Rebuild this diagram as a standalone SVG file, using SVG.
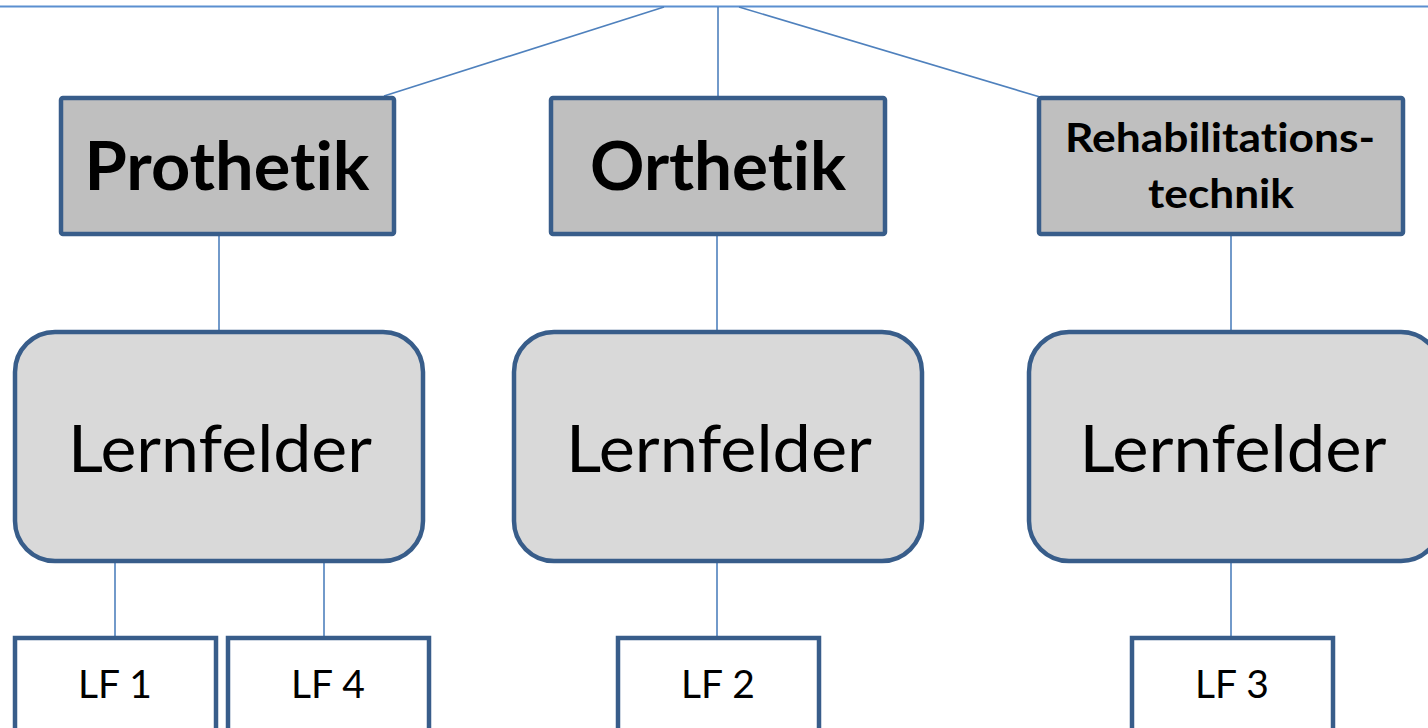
<svg xmlns="http://www.w3.org/2000/svg" width="1428" height="728" viewBox="0 0 1428 728">
<style>
.c{stroke:#4f81bd;stroke-width:1.6;fill:none}
.top{fill:#bfbfbf;stroke:#385d8a;stroke-width:4.5}
.mid{fill:#d9d9d9;stroke:#385d8a;stroke-width:4.5}
.lf{fill:#ffffff;stroke:#385d8a;stroke-width:4.5}
text{font-family:Lato,"Open Sans","Liberation Sans",sans-serif;fill:#000;text-anchor:middle;font-variant-ligatures:none;font-feature-settings:"liga" 0,"clig" 0}
.b{font-weight:bold}
</style>
<rect width="1428" height="728" fill="#ffffff"/>
<g id="connectors">
<line x1="0" y1="6.5" x2="1428" y2="6.5" stroke="#5b8fd0" stroke-width="1.8"/>
<line class="c" x1="664" y1="7" x2="384" y2="96"/>
<line class="c" x1="718" y1="7" x2="718" y2="96"/>
<line class="c" x1="739" y1="7" x2="1040" y2="97"/>
<line class="c" x1="219" y1="235" x2="219" y2="331"/>
<line class="c" x1="717" y1="235" x2="717" y2="331"/>
<line class="c" x1="1231" y1="235" x2="1231" y2="331"/>
<line class="c" x1="115" y1="562" x2="115" y2="637"/>
<line class="c" x1="324" y1="562" x2="324" y2="637"/>
<line class="c" x1="717" y1="562" x2="717" y2="637"/>
<line class="c" x1="1231" y1="562" x2="1231" y2="637"/>
</g>
<g id="prothetik">
<rect class="top" x="61" y="98" width="333" height="136" rx="2"/>
<text class="b" x="227" y="190" font-size="66" textLength="285" lengthAdjust="spacingAndGlyphs">Prothetik</text>
</g>
<g id="orthetik">
<rect class="top" x="551" y="98" width="334" height="136" rx="2"/>
<text class="b" x="718" y="190" font-size="66" textLength="256" lengthAdjust="spacingAndGlyphs">Orthetik</text>
</g>
<g id="rehab">
<rect class="top" x="1039" y="98" width="364" height="136" rx="2"/>
<text class="b" x="1220" y="152" font-size="40" textLength="310" lengthAdjust="spacingAndGlyphs">Rehabilitations-</text>
<text class="b" x="1221" y="208" font-size="40" textLength="146" lengthAdjust="spacingAndGlyphs">technik</text>
</g>
<g id="lernfelder1">
<rect class="mid" x="15" y="332" width="408" height="229" rx="40"/>
<text x="220" y="472" font-size="66" textLength="304" lengthAdjust="spacingAndGlyphs">Lernfelder</text>
</g>
<g id="lernfelder2">
<rect class="mid" x="514" y="332" width="408" height="229" rx="40"/>
<text x="719" y="472" font-size="66" textLength="306" lengthAdjust="spacingAndGlyphs">Lernfelder</text>
</g>
<g id="lernfelder3">
<rect class="mid" x="1029" y="332" width="412" height="229" rx="40"/>
<text x="1233" y="472" font-size="66" textLength="307" lengthAdjust="spacingAndGlyphs">Lernfelder</text>
</g>
<g id="lf1">
<rect class="lf" x="15" y="638" width="201" height="95"/>
<text x="115" y="698" font-size="39">LF 1</text>
</g>
<g id="lf4">
<rect class="lf" x="228" y="638" width="201" height="95"/>
<text x="328" y="698" font-size="39">LF 4</text>
</g>
<g id="lf2">
<rect class="lf" x="618" y="638" width="201" height="95"/>
<text x="718" y="698" font-size="39">LF 2</text>
</g>
<g id="lf3">
<rect class="lf" x="1132" y="638" width="201" height="95"/>
<text x="1232" y="698" font-size="39">LF 3</text>
</g>
</svg>
